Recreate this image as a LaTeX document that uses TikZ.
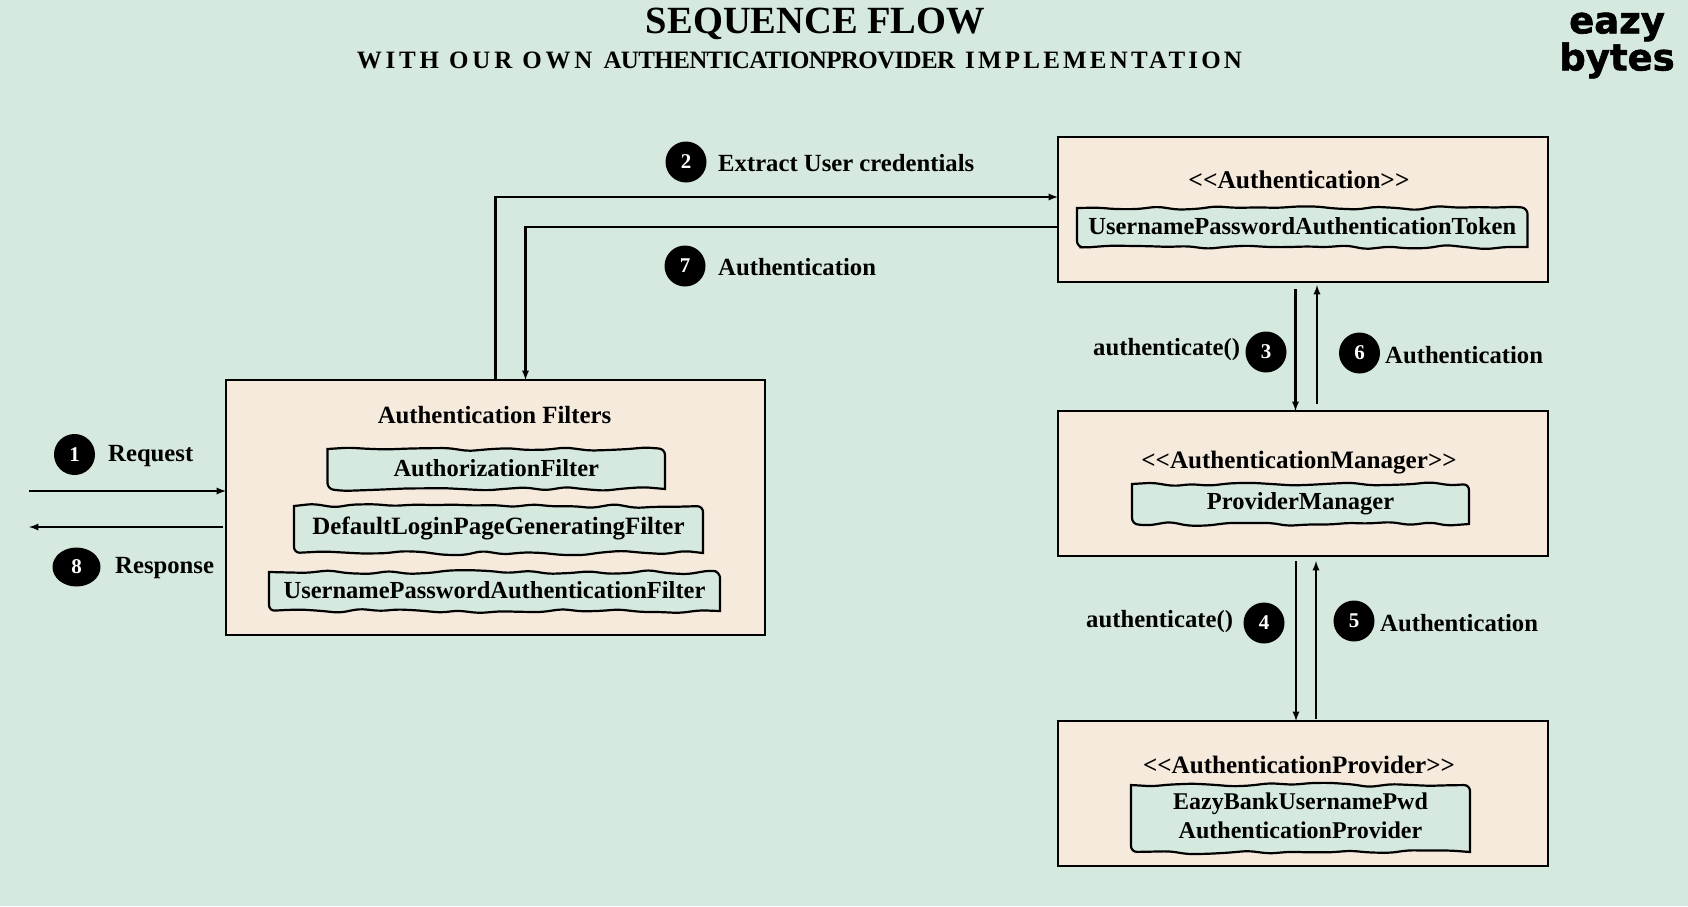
\documentclass[tikz,border=0pt]{standalone}
\usepackage{fontspec}
\usetikzlibrary{arrows,shapes,calc,decorations.pathmorphing}
\setmainfont{Liberation Serif}
\newfontfamily\logofont[FakeBold=1.6]{DejaVu Sans Bold}
\definecolor{pagegreen}{HTML}{D6E9DF}
\definecolor{boxcream}{HTML}{F6EADD}
\newcommand{\wavebox}[7]{%
\path[wave box] (#2,#3) [rounded corners=6pt] decorate {-- (#4,#3)} [sharp corners] -- (#4,#5) [rounded corners=6pt] decorate {-- (#2,#5)} [sharp corners] -- cycle;
\node[inner label] (#1) at ({(#2+#4)/2},{(#3+#5)/2+#7}) {#6};
}
\begin{document}
\begin{tikzpicture}[x=1pt,y=-1pt,
main box/.style={rectangle,draw=black,fill=boxcream,line width=2.5pt,inner sep=0pt,outer sep=0pt},
wave box/.style={draw=black,fill=pagegreen,line width=2.2pt,decoration={random steps,segment length=20pt,amplitude=2.2pt}},
inner label/.style={font=\fontsize{24.5}{29}\selectfont\bfseries,align=center,inner sep=0pt},
box name/.style={font=\fontsize{25.1}{29}\selectfont\bfseries,inner sep=0pt},
step node/.style={ellipse,fill=black,text=white,font=\fontsize{21}{24}\selectfont\bfseries,inner sep=0pt,minimum width=41pt,minimum height=41pt},
flow label/.style={font=\fontsize{24.7}{29}\selectfont\bfseries,anchor=west,inner sep=0pt},
flow/.style={draw=black,line width=2.2pt,-latex}]
\pgfmathsetseed{4242}
\useasboundingbox (0,0) rectangle (1688,906);
\fill[pagegreen] (0,0) rectangle (1688,906);
% heading
\node[font=\fontsize{38.5}{44}\selectfont\bfseries,inner sep=0pt] (title) at (815.5,24) {SEQUENCE FLOW};
\node[font=\fontsize{25}{29}\selectfont\bfseries,inner sep=0pt] (subtitle) at (799.5,60) {{\addfontfeature{LetterSpace=15.2}WITH OUR OWN}\hspace{11pt}{\addfontfeature{LetterSpace=-2.5}AUTHENTICATIONPROVIDER}\hspace{10pt}{\addfontfeature{LetterSpace=12.8}IMPLEMENTATION}};
\node[font=\fontsize{37}{31}\selectfont\logofont,align=center,inner sep=0pt] (logo) at (1617,45.5) {eazy\\bytes};
% boxes
\node[main box,minimum width=539pt,minimum height=255pt] (filters) at (495.5,507.5) {};
\node[main box,minimum width=490pt,minimum height=145pt] (auth) at (1303,209.5) {};
\node[main box,minimum width=490pt,minimum height=145pt] (manager) at (1303,483.5) {};
\node[main box,minimum width=490pt,minimum height=145pt] (provider) at (1303,793.5) {};
\node[box name,font=\fontsize{24.8}{29}\selectfont\bfseries] (filtersname) at (494.5,415) {Authentication Filters};
\node[box name,font=\fontsize{25.5}{29}\selectfont\bfseries] (authname) at (1299,180) {{<}{<}Authentication{>}{>}};
\node[box name] (managername) at (1299,463) {{<}{<}AuthenticationManager{>}{>}};
\node[box name] (providername) at (1299,764.5) {{<}{<}AuthenticationProvider{>}{>}};
\wavebox{authfilter}{327.5}{449}{665}{489}{AuthorizationFilter}{-0.5}
\wavebox{loginfilter}{294}{506}{703}{553}{\fontsize{24.9}{29}\selectfont DefaultLoginPageGeneratingFilter}{-1.5}
\wavebox{userfilter}{269}{572}{720}{611}{UsernamePasswordAuthenticationFilter}{-1.5}
\wavebox{token}{1077}{208}{1527.5}{247}{UsernamePasswordAuthenticationToken}{-1}
\wavebox{providermanager}{1132}{484}{1469}{524}{ProviderManager}{-0.5}
\wavebox{eazyprovider}{1131}{785}{1470}{852}{\fontsize{24}{29}\selectfont EazyBankUsernamePwd\\\fontsize{24}{29}\selectfont AuthenticationProvider}{-3}
% numbered steps
\node[step node] (s1) at (74.5,454.5) {1};
\node[step node] (s2) at (686,162) {2};
\node[step node] (s3) at (1266,352) {3};
\node[step node] (s4) at (1264,623) {4};
\node[step node] (s5) at (1354,621) {5};
\node[step node] (s6) at (1359.5,353) {6};
\node[step node] (s7) at (685,266) {7};
\node[step node,minimum width=48pt,minimum height=39pt] (s8) at (76.5,567) {8};
\node[flow label] (l1) at (108,456) {Request};
\node[flow label] (l2) at (718,163) {Extract User credentials};
\node[flow label] (l3) at (1093,349.5) {authenticate()};
\node[flow label] (l4) at (1086,621.5) {authenticate()};
\node[flow label] (l5) at (1380,623) {Authentication};
\node[flow label] (l6) at (1385,355) {Authentication};
\node[flow label] (l7) at (718,267) {Authentication};
\node[flow label] (l8) at (115,568) {Response};
% connectors
\coordinate (clientin) at (29,491);
\coordinate (clientout) at (29,527);
\draw[flow] (clientin) -- (clientin -| filters.west);
\draw[flow] ([xshift=-3pt]clientout -| filters.west) -- (clientout);
\draw[flow] (filters.north) |- ([yshift=12.5pt]auth.west);
\draw[flow] ([yshift=-17.5pt]auth.west) -| ([xshift=30pt]filters.north);
\draw[flow] ([xshift=-7.5pt,yshift=-7pt]auth.south) -- ([xshift=-7.5pt]manager.north);
\draw[flow] ([xshift=14pt,yshift=7pt]manager.north) -- ([xshift=14pt,yshift=-3pt]auth.south);
\draw[flow] ([xshift=-7pt,yshift=-5pt]manager.south) -- ([xshift=-7pt]provider.north);
\draw[flow] ([xshift=13pt,yshift=2pt]provider.north) -- ([xshift=13pt,yshift=-5pt]manager.south);
\end{tikzpicture}
\end{document}
